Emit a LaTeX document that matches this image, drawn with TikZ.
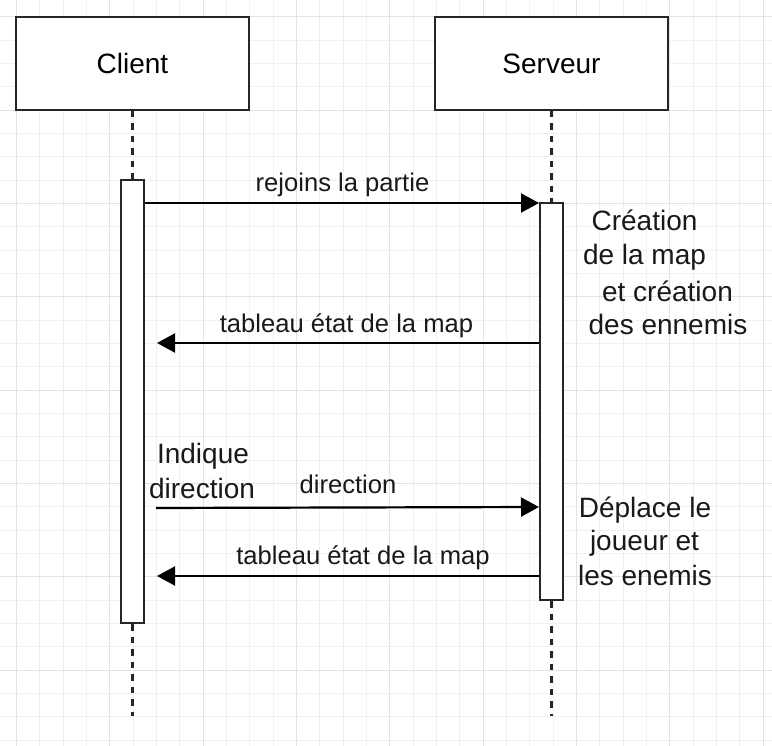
\documentclass[tikz,border=0pt]{standalone}
\usepackage{fontspec}
\setmainfont{Liberation Sans}
\usetikzlibrary{arrows.meta}
\tikzset{
  actor/.style={draw=black!85, line width=2pt, fill=white, minimum width=233pt, minimum height=93pt, inner sep=0pt, font=\fontsize{28}{32}\selectfont},
  actbar/.style={draw=black!85, line width=2pt, fill=white, minimum width=23pt, inner sep=0pt},
  lifeline/.style={draw=black!85, line width=2.2pt, dash pattern=on 6.5pt off 6pt},
  msg/.style={draw=black, line width=2.2pt, -{Triangle[length=18pt,width=19pt]}},
  msglabel/.style={anchor=base, inner sep=0pt, font=\fontsize{25.6}{30}\selectfont, text=black!90},
  note/.style={anchor=base, inner sep=0pt, font=\fontsize{28}{34}\selectfont, text=black!90},
  minorgrid/.style={draw=black!6, line width=0.8pt},
  majorgrid/.style={draw=black!11, line width=0.9pt}
}
\begin{document}
\begin{tikzpicture}[x=1pt,y=-1pt]
\useasboundingbox (0,0) rectangle (772,746);
\fill[white] (0,0) rectangle (772,746);
% grid
\foreach \k in {0,...,32} {
  \pgfmathsetmacro{\gx}{16.3+23.333*\k}
  \draw[minorgrid] (\gx,0) -- (\gx,746);
}
\foreach \k in {0,...,31} {
  \pgfmathsetmacro{\gy}{16.7+23.333*\k}
  \draw[minorgrid] (0,\gy) -- (772,\gy);
}
\foreach \k in {0,...,8} {
  \pgfmathsetmacro{\gx}{16.3+93.333*\k}
  \draw[majorgrid] (\gx,0) -- (\gx,746);
}
\foreach \k in {0,...,7} {
  \pgfmathsetmacro{\gy}{16.7+93.333*\k}
  \draw[majorgrid] (0,\gy) -- (772,\gy);
}
% actors
\node[actor] (client) at (132.5,63.5) {Client};
\node[actor] (server) at (551.5,63.5) {Serveur};
% lifeline ends
\coordinate (cend) at (132.5,716);
\coordinate (send) at (551.5,716);
% activation bars
\node[actbar, minimum height=443pt] (ca) at (132.5,401.5) {};
\node[actbar, minimum height=397pt] (sa) at (551.5,401.5) {};
% lifelines
\draw[lifeline] (client.south) -- (ca.north);
\draw[lifeline] (ca.south) -- (cend);
\draw[lifeline] (server.south) -- (sa.north);
\draw[lifeline] (sa.south) -- (send);
% redraw bars on top
\node[actbar, minimum height=443pt] at (ca) {};
\node[actbar, minimum height=397pt] at (sa) {};
% message anchor points
\coordinate (m1s) at (ca.east |- 0,203);
\coordinate (m1e) at (sa.west |- 0,203);
\coordinate (m2s) at (sa.west |- 0,343);
\coordinate (m2e) at (157,343);
\coordinate (m3s) at (156,508);
\coordinate (m3e) at (sa.west |- 0,507);
\coordinate (m4s) at (sa.west |- 0,576);
\coordinate (m4e) at (157,576);
% messages
\draw[msg] (m1s) -- (m1e);
\draw[msg] (m2s) -- (m2e);
\draw[msg] (m3s) -- (m3e);
\draw[msg] (m4s) -- (m4e);
% message labels
\node[msglabel] (l1) at (342.5,192) {rejoins la partie};
\node[msglabel] (l2) at (346.5,333) {tableau état de la map};
\node[msglabel] (l3) at (348,493) {direction};
\node[msglabel] (l4) at (363,564) {tableau état de la map};
% notes
\node[note] (n1) at (644.5,231) {Création};
\node[note] (n2) at (644.5,265) {de la map};
\node[note] (n3) at (667.5,302) {et création};
\node[note] (n4) at (668,335) {des ennemis};
\node[note] (i1) at (203,464) {Indique};
\node[note] (i2) at (202,498) {direction};
\node[note] (d1) at (645,517) {Déplace le};
\node[note] (d2) at (644.5,550) {joueur et};
\node[note] (d3) at (645,585) {les enemis};
\end{tikzpicture}
\end{document}
